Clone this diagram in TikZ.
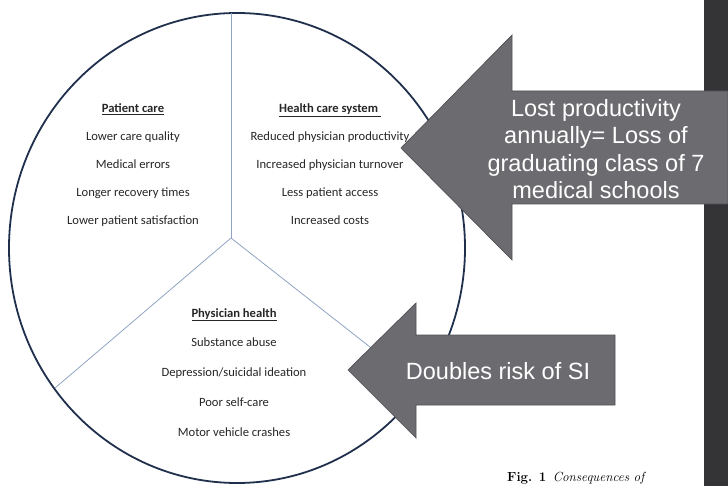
\documentclass[tikz,border=0pt]{standalone}
\usepackage{fontspec}
\newfontfamily\bodyfont{Carlito}
\newfontfamily\calloutfont{Liberation Sans}
\usetikzlibrary{positioning}
\definecolor{rimblue}{HTML}{1F2F4C}
\definecolor{spokeblue}{HTML}{8FA3C2}
\definecolor{calloutgray}{HTML}{6C6C70}
\definecolor{calloutedge}{HTML}{505054}
\definecolor{barslate}{HTML}{343437}
\tikzset{
    sectorhead/.style={font=\bodyfont\bfseries\fontsize{12.6}{14}\selectfont,text=black!85,inner sep=0pt,text height=9pt,text depth=3pt},
    sectoritem/.style={font=\bodyfont\fontsize{12.6}{14}\selectfont,text=black!85,inner sep=0pt,text height=9pt,text depth=3pt},
    rimline/.style={draw=rimblue,line width=1.8pt},
    spokeline/.style={draw=spokeblue,line width=0.8pt},
    callout/.style={fill=calloutgray,draw=calloutedge,line width=0.7pt},
    callouttext/.style={font=\calloutfont\fontsize{23.5}{27.3}\selectfont,text=white,align=center,inner sep=0pt},
    figcaption/.style={font=\fontsize{13.2}{15}\selectfont,anchor=west,inner sep=0pt}
}

\begin{document}
\begin{tikzpicture}[x=1pt,y=-1pt]
            \useasboundingbox (0,0) rectangle (728,486);
            % dark strip on the right
            \fill[barslate] (704,0) rectangle (728,486);
            % pie outline and dividers
            \draw[rimline] (237,248) ellipse [x radius=228pt,y radius=235pt];
            \coordinate (hub) at (231,238);
            \coordinate (rimtop) at (231,13);
            \coordinate (rimleft) at (55,388);
            \coordinate (rimright) at (421,387);
            \draw[spokeline] (hub) -- (rimtop);
            \draw[spokeline] (hub) -- (rimleft);
            \draw[spokeline] (hub) -- (rimright);
            % patient care
            \node[sectorhead] (pchead) at (133,110) {\underline{Patient care}};
            \node[sectoritem,below=15.5pt of pchead] (pcquality) {Lower care quality};
            \node[sectoritem,below=15.5pt of pcquality] (pcerrors) {Medical errors};
            \node[sectoritem,below=15.5pt of pcerrors] (pcrecovery) {Longer recovery times};
            \node[sectoritem,below=15.5pt of pcrecovery] (pcsatisfy) {Lower patient satisfaction};
            % health care system
            \node[sectorhead] (hshead) at (330,110) {\underline{Health care system\ }};
            \node[sectoritem,below=15.5pt of hshead] (hsproduct) {Reduced physician productivity};
            \node[sectoritem,below=15.5pt of hsproduct] (hsturnover) {Increased physician turnover};
            \node[sectoritem,below=15.5pt of hsturnover] (hsaccess) {Less patient access};
            \node[sectoritem,below=15.5pt of hsaccess] (hscosts) {Increased costs};
            % physician health
            \node[sectorhead] (phhead) at (234,314) {\underline{Physician health}};
            \node[sectoritem,below=17.5pt of phhead] (phsubstance) {Substance abuse};
            \node[sectoritem,below=17.5pt of phsubstance] (phdepress) {Depression/suicidal ideation};
            \node[sectoritem,below=17.5pt of phdepress] (phselfcare) {Poor self-care};
            \node[sectoritem,below=17.5pt of phselfcare] (phcrashes) {Motor vehicle crashes};
            % block arrows
            \draw[callout] (401,148) -- (512,35) -- (512,91) -- (728,91) -- (728,204) -- (512,204) -- (512,260) -- cycle;
            \node[callouttext] (lostprod) at (596,149) {Lost productivity\\annually= Loss of\\graduating class of 7\\medical schools};
            \draw[callout] (348,370) -- (416,303) -- (416,335) -- (615,335) -- (615,405) -- (416,405) -- (416,438) -- cycle;
            \node[callouttext] (siriskn) at (498,371) {Doubles risk of SI};
            % caption
            \node[figcaption] (figcap) at (507,478) {\textbf{Fig. 1}\enspace\textit{Consequences of}};
        \end{tikzpicture}
\end{document}
